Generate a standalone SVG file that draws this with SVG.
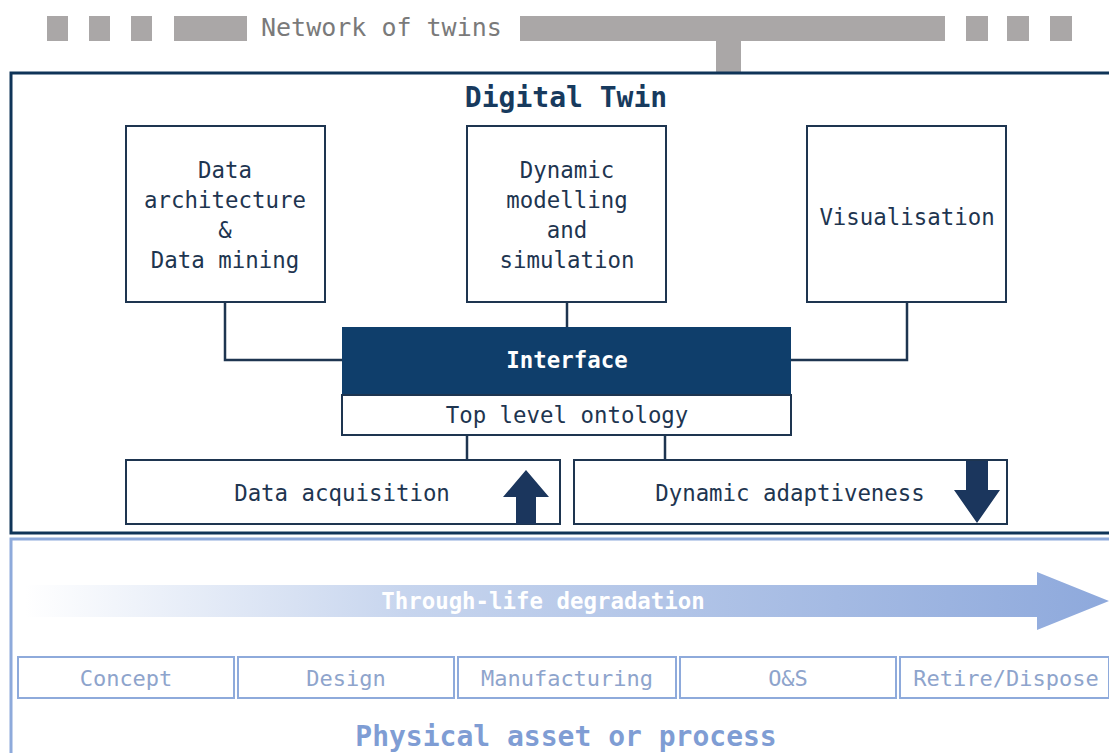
<svg xmlns="http://www.w3.org/2000/svg" width="1109" height="753" viewBox="0 0 1109 753">
<style>
text{font-family:"DejaVu Sans Mono","Liberation Mono",monospace;}
.t{font-size:22.4px;fill:#1e3550;text-anchor:middle;}
.box{fill:#fff;stroke:#1e3550;stroke-width:2;}
.gray{fill:#aaa7a7;}
.conn{fill:none;stroke:#1e3550;stroke-width:2.5;}
.stage{fill:#fff;stroke:#8eaadb;stroke-width:2;}
.st{font-size:22px;fill:#8ea4cc;text-anchor:middle;}
.arr{fill:#1b365d;}
</style>
<defs>
<linearGradient id="grad" x1="0" y1="0" x2="1" y2="0">
<stop offset="0" stop-color="#ffffff"/>
<stop offset="0.35" stop-color="#c7d5ee"/>
<stop offset="1" stop-color="#8ea9dc"/>
</linearGradient>
</defs>
<rect width="1109" height="753" fill="#fff"/>
<g id="network">
<rect class="gray" x="47" y="16" width="21" height="25"/>
<rect class="gray" x="89" y="16" width="21" height="25"/>
<rect class="gray" x="131" y="16" width="21" height="25"/>
<rect class="gray" x="174" y="16" width="73" height="25"/>
<text x="261" y="36" style="font-size:25px;fill:#7a7a7a">Network of twins</text>
<rect class="gray" x="520" y="16" width="425" height="25"/>
<rect class="gray" x="716" y="40" width="25" height="33"/>
<rect class="gray" x="966" y="16" width="22" height="25"/>
<rect class="gray" x="1007" y="16" width="22" height="25"/>
<rect class="gray" x="1050" y="16" width="22" height="25"/>
</g>
<g id="physical">
<rect x="11" y="539" width="1110" height="230" fill="#fff" stroke="#8eaadb" stroke-width="3"/>
<path d="M25 585 H1037 V572 L1109 601 L1037 630 V617 H25 Z" fill="url(#grad)"/>
<text x="543" y="609" style="font-size:22.4px;fill:#ffffff;font-weight:bold;text-anchor:middle">Through-life degradation</text>
<g id="concept"><rect class="stage" x="18" y="657" width="216" height="41"/><text class="st" x="126" y="686">Concept</text></g>
<g id="design"><rect class="stage" x="238" y="657" width="216" height="41"/><text class="st" x="346" y="686">Design</text></g>
<g id="manufacturing"><rect class="stage" x="458" y="657" width="218" height="41"/><text class="st" x="567" y="686">Manufacturing</text></g>
<g id="os"><rect class="stage" x="680" y="657" width="216" height="41"/><text class="st" x="788" y="686">O&amp;S</text></g>
<g id="retire"><rect class="stage" x="900" y="657" width="209" height="41"/><text class="st" x="1006" y="686">Retire/Dispose</text></g>
<text x="566" y="746" style="font-size:28px;font-weight:bold;fill:#7f9dd4;text-anchor:middle">Physical asset or process</text>
</g>
<g id="digital-twin">
<rect x="11" y="73" width="1110" height="460" fill="#fff" stroke="#0f3458" stroke-width="3"/>
<text x="566" y="107" style="font-size:28px;font-weight:bold;fill:#173a5e;text-anchor:middle">Digital Twin</text>
</g>
<g id="connectors">
<path class="conn" d="M225 302 V360 H342"/>
<path class="conn" d="M567 302 V327"/>
<path class="conn" d="M907 302 V360 H791"/>
<path class="conn" d="M467 435 V460"/>
<path class="conn" d="M665 435 V460"/>
</g>
<g id="data-architecture">
<rect class="box" x="126" y="126" width="199" height="176"/>
<text class="t" x="225" y="178">Data</text>
<text class="t" x="225" y="208">architecture</text>
<text class="t" x="225" y="238">&amp;</text>
<text class="t" x="225" y="268">Data mining</text>
</g>
<g id="dynamic-modelling">
<rect class="box" x="467" y="126" width="199" height="176"/>
<text class="t" x="567" y="178">Dynamic</text>
<text class="t" x="567" y="208">modelling</text>
<text class="t" x="567" y="238">and</text>
<text class="t" x="567" y="268">simulation</text>
</g>
<g id="visualisation">
<rect class="box" x="807" y="126" width="199" height="176"/>
<text class="t" x="907" y="225">Visualisation</text>
</g>
<g id="interface">
<rect x="342" y="327" width="449" height="68" fill="#0f3e6b"/>
<text x="567" y="368" style="font-size:22.4px;font-weight:bold;fill:#fff;text-anchor:middle">Interface</text>
</g>
<g id="ontology">
<rect class="box" x="342" y="395" width="449" height="40"/>
<text class="t" x="567" y="423">Top level ontology</text>
</g>
<g id="data-acquisition">
<rect class="box" x="126" y="460" width="434" height="64"/>
<text class="t" x="342" y="501">Data acquisition</text>
<path class="arr" d="M516 524 V497 H503 L526 470 L549 497 H536 V524 Z"/>
</g>
<g id="dynamic-adaptiveness">
<rect class="box" x="574" y="460" width="433" height="64"/>
<text class="t" x="790" y="501">Dynamic adaptiveness</text>
<path class="arr" d="M966 461 V490 H954 L977 523 L1000 490 H988 V461 Z"/>
</g>
</svg>
